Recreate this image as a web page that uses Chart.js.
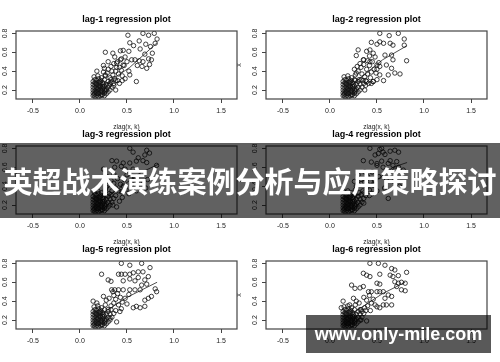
<!DOCTYPE html>
<html>
<head>
<meta charset="utf-8">
<script src="https://cdn.jsdelivr.net/npm/chart.js@4.4.0/dist/chart.umd.min.js"></script>
<style>
html, body { margin: 0; padding: 0; background: #fff; }
#wrap { position: relative; width: 500px; height: 362px; overflow: hidden; }
.panel { position: absolute; width: 265px; height: 132px; }
#banner { position: absolute; left: 0; top: 143px; width: 500px; height: 75px; background: rgba(0,0,0,0.62); }
#bannerText { position: absolute; left: 0; top: 143px; width: 500px; height: 75px; line-height: 75px; text-align: center;
  color: #fff; font-family: "Noto Sans CJK SC"; font-weight: bold; font-size: 29px; white-space: nowrap; }
#mark { position: absolute; left: 306px; top: 315px; width: 185px; height: 38px; background: rgba(0,0,0,0.65);
  color: #fff; font-family: "Liberation Sans", Arial, sans-serif; font-weight: bold; font-size: 18px; line-height: 38px; text-align: center; }
</style>
</head>
<body>
<div id="wrap">
  <div class="panel" style="left:-15px;top:0px"><canvas id="c0" width="265" height="132"></canvas></div>
  <div class="panel" style="left:235px;top:0px"><canvas id="c1" width="265" height="132"></canvas></div>
  <div class="panel" style="left:-15px;top:115px"><canvas id="c2" width="265" height="132"></canvas></div>
  <div class="panel" style="left:235px;top:115px"><canvas id="c3" width="265" height="132"></canvas></div>
  <div class="panel" style="left:-15px;top:230px"><canvas id="c4" width="265" height="132"></canvas></div>
  <div class="panel" style="left:235px;top:230px"><canvas id="c5" width="265" height="132"></canvas></div>
  <div id="banner"></div>
  <div id="bannerText">英超战术演练案例分析与应用策略探讨</div>
  <div id="mark">www.only-mile.com</div>
</div>
<script>
const panelTitles = ['lag-1 regression plot', 'lag-2 regression plot', 'lag-3 regression plot',
                     'lag-4 regression plot', 'lag-5 regression plot', 'lag-6 regression plot'];
const xTicks = [-0.5, 0, 0.5, 1, 1.5];
const xTickLabels = ['-0.5', '0.0', '0.5', '1.0', '1.5'];
const yTicks = [0.2, 0.3, 0.4, 0.5, 0.6, 0.7, 0.8];
const yTickLabels = ['0.2', '', '0.4', '', '0.6', '', '0.8'];

// dense low corner, present in every lag
const corePts = [[0.14,0.14],[0.14,0.17],[0.14,0.2],[0.14,0.23],[0.14,0.26],[0.14,0.29],[0.16,0.13],[0.16,0.16],
  [0.16,0.19],[0.16,0.22],[0.16,0.25],[0.16,0.28],[0.16,0.31],[0.18,0.14],[0.18,0.17],[0.18,0.2],[0.18,0.23],
  [0.18,0.26],[0.18,0.3],[0.2,0.13],[0.2,0.16],[0.2,0.19],[0.2,0.22],[0.2,0.25],[0.2,0.28],[0.2,0.32],[0.22,0.14],
  [0.22,0.17],[0.22,0.2],[0.22,0.23],[0.22,0.27],[0.22,0.3],[0.24,0.15],[0.24,0.18],[0.24,0.21],[0.24,0.24],
  [0.24,0.28],[0.26,0.14],[0.26,0.17],[0.26,0.2],[0.26,0.24],[0.26,0.31],[0.28,0.16],[0.28,0.21],[0.28,0.26],
  [0.3,0.18],[0.3,0.23],[0.3,0.29],[0.32,0.2],[0.32,0.26],[0.34,0.23],[0.36,0.27],[0.15,0.34],[0.19,0.35],
  [0.23,0.33],[0.27,0.36],[0.33,0.31],[0.38,0.3],[0.15,0.15],[0.17,0.18],[0.19,0.21],[0.21,0.24],[0.23,0.19],
  [0.25,0.22],[0.17,0.27],[0.21,0.29],[0.25,0.26],[0.19,0.16],[0.23,0.15],[0.27,0.19]];

const lag1Pts = [[0.51,0.78],[0.67,0.8],[0.73,0.78],[0.79,0.8],[0.82,0.74],[0.53,0.7],[0.57,0.67],[0.63,0.72],
  [0.7,0.685],[0.8,0.695],[0.43,0.615],[0.46,0.62],[0.27,0.6],[0.35,0.59],[0.52,0.61],[0.64,0.635],[0.75,0.66],
  [0.69,0.58],[0.77,0.59],[0.55,0.52],[0.585,0.52],[0.63,0.51],[0.67,0.5],[0.73,0.53],[0.76,0.52],[0.61,0.46],
  [0.66,0.45],[0.71,0.43],[0.74,0.47],[0.43,0.52],[0.39,0.485],[0.46,0.465],[0.25,0.46],[0.18,0.4],[0.52,0.4],
  [0.53,0.36],[0.6,0.29],[0.28,0.2],[0.38,0.2],[0.36,0.25],[0.3,0.42],[0.33,0.45],[0.36,0.48],[0.4,0.5],
  [0.42,0.44],[0.38,0.4],[0.35,0.36],[0.32,0.33],[0.29,0.38],[0.41,0.37],[0.44,0.41],[0.47,0.46],[0.45,0.35],
  [0.48,0.32],[0.4,0.3],[0.37,0.32],[0.33,0.28],[0.31,0.25],[0.27,0.35],[0.25,0.39],[0.42,0.27],[0.45,0.3],
  [0.5,0.5],[0.48,0.55],[0.44,0.53],[0.37,0.55],[0.3,0.5],[0.26,0.43],[0.34,0.4],[0.39,0.44]];

const lag2Pts = [[0.53,0.8],[0.63,0.776],[0.727,0.8],[0.44,0.705],[0.5,0.685],[0.53,0.71],[0.57,0.695],[0.64,0.695],
  [0.67,0.675],[0.79,0.74],[0.79,0.675],[0.3,0.625],[0.39,0.61],[0.425,0.625],[0.46,0.59],[0.585,0.57],[0.655,0.57],
  [0.67,0.52],[0.815,0.51],[0.6,0.465],[0.655,0.43],[0.69,0.38],[0.745,0.37],[0.62,0.36],[0.28,0.565],[0.355,0.52],
  [0.425,0.5],[0.5,0.465],[0.53,0.45],[0.53,0.36],[0.5,0.31],[0.46,0.29],[0.57,0.3],[0.41,0.27],[0.37,0.2],
  [0.3,0.4],[0.33,0.44],[0.36,0.47],[0.39,0.42],[0.42,0.46],[0.45,0.5],[0.4,0.37],[0.37,0.34],[0.34,0.37],
  [0.31,0.31],[0.28,0.38],[0.26,0.42],[0.44,0.39],[0.47,0.42],[0.49,0.38],[0.43,0.33],[0.46,0.29],[0.39,0.29],
  [0.35,0.3],[0.32,0.48],[0.29,0.45],[0.48,0.55],[0.42,0.56],[0.36,0.52],[0.4,0.51],[0.52,0.49],[0.5,0.42],
  [0.27,0.3],[0.44,0.27],[0.38,0.25]];

const lag3Pts = [[0.53,0.8],[0.565,0.76],[0.71,0.78],[0.69,0.73],[0.67,0.67],[0.71,0.65],[0.34,0.67],[0.39,0.665],
  [0.46,0.645],[0.53,0.645],[0.6,0.665],[0.37,0.6],[0.44,0.61],[0.25,0.58],[0.815,0.62],[0.565,0.58],[0.74,0.75],
  [0.62,0.7],[0.48,0.58],[0.5,0.52],[0.58,0.5],[0.66,0.53],[0.72,0.47],[0.63,0.44],[0.55,0.42],[0.7,0.38],
  [0.6,0.35],[0.52,0.32],[0.45,0.28],[0.35,0.2],[0.39,0.18],[0.42,0.24],[0.3,0.41],[0.33,0.46],[0.36,0.43],
  [0.4,0.48],[0.43,0.42],[0.38,0.38],[0.34,0.35],[0.31,0.32],[0.28,0.39],[0.41,0.35],[0.46,0.4],[0.47,0.47],
  [0.44,0.34],[0.49,0.36],[0.26,0.44],[0.29,0.5],[0.36,0.53]];

const lag4Pts = [[0.425,0.8],[0.53,0.79],[0.64,0.77],[0.73,0.76],[0.355,0.67],[0.44,0.655],[0.5,0.64],[0.55,0.665],
  [0.62,0.64],[0.67,0.62],[0.73,0.6],[0.78,0.57],[0.565,0.76],[0.48,0.73],[0.55,0.8],[0.69,0.78],[0.515,0.745],
  [0.585,0.735],[0.64,0.67],[0.71,0.66],[0.5,0.62],[0.565,0.6],[0.69,0.57],[0.62,0.27],[0.45,0.55],[0.52,0.5],
  [0.6,0.48],[0.68,0.45],[0.74,0.4],[0.58,0.38],[0.5,0.35],[0.42,0.3],[0.36,0.22],[0.3,0.42],[0.33,0.47],
  [0.37,0.44],[0.4,0.5],[0.43,0.45],[0.39,0.38],[0.35,0.35],[0.31,0.33],[0.28,0.4],[0.42,0.36],[0.46,0.41],
  [0.48,0.46],[0.45,0.32],[0.26,0.45],[0.3,0.52],[0.37,0.55]];

const lag5Pts = [[0.44,0.8],[0.53,0.78],[0.656,0.8],[0.745,0.755],[0.62,0.71],[0.67,0.71],[0.23,0.685],[0.41,0.685],
  [0.44,0.685],[0.48,0.685],[0.53,0.685],[0.567,0.7],[0.3,0.625],[0.33,0.61],[0.46,0.615],[0.53,0.635],[0.585,0.615],
  [0.62,0.65],[0.69,0.625],[0.727,0.66],[0.656,0.57],[0.71,0.58],[0.337,0.52],[0.37,0.52],[0.41,0.52],[0.46,0.52],
  [0.53,0.52],[0.585,0.52],[0.64,0.52],[0.8,0.53],[0.815,0.5],[0.76,0.45],[0.727,0.43],[0.69,0.41],[0.69,0.345],
  [0.64,0.33],[0.6,0.345],[0.567,0.33],[0.14,0.4],[0.18,0.38],[0.25,0.45],[0.28,0.41],[0.41,0.36],[0.425,0.29],
  [0.32,0.22],[0.39,0.18],[0.35,0.5],[0.36,0.46],[0.38,0.42],[0.4,0.48],[0.43,0.44],[0.36,0.38],[0.33,0.35],
  [0.3,0.31],[0.45,0.39],[0.48,0.43],[0.5,0.37],[0.52,0.47],[0.44,0.32],[0.31,0.43]];

const lag6Pts = [[0.425,0.8],[0.515,0.8],[0.585,0.78],[0.656,0.745],[0.69,0.73],[0.815,0.705],[0.355,0.695],
  [0.39,0.675],[0.425,0.66],[0.53,0.685],[0.64,0.675],[0.67,0.66],[0.727,0.67],[0.23,0.57],[0.266,0.535],[0.32,0.54],
  [0.355,0.555],[0.5,0.59],[0.53,0.58],[0.69,0.605],[0.727,0.59],[0.76,0.6],[0.8,0.59],[0.71,0.555],[0.76,0.52],
  [0.8,0.51],[0.41,0.5],[0.44,0.5],[0.5,0.5],[0.53,0.5],[0.567,0.5],[0.62,0.465],[0.656,0.45],[0.585,0.43],
  [0.656,0.36],[0.6,0.36],[0.567,0.36],[0.53,0.33],[0.5,0.34],[0.25,0.43],[0.28,0.4],[0.14,0.4],[0.21,0.36],
  [0.12,0.33],[0.32,0.31],[0.34,0.29],[0.39,0.19],[0.33,0.2],[0.36,0.44],[0.39,0.41],[0.42,0.46],[0.44,0.38],
  [0.4,0.35],[0.37,0.33],[0.46,0.42],[0.48,0.36],[0.31,0.38],[0.43,0.3]];

const lagPts = [lag1Pts, lag2Pts, lag3Pts, lag4Pts, lag5Pts, lag6Pts];

// smoother through each cloud
const fitX = [[0.13,0.53,0.82],[0.13,0.56,0.82],[0.13,0.64,0.83],[0.13,0.67,0.82],[0.13,0.5,0.82],[0.13,0.56,0.8]];
const fitY = [[0.17,0.44,0.7],[0.17,0.52,0.67],[0.17,0.54,0.63],[0.17,0.6,0.65],[0.2,0.44,0.6],[0.2,0.48,0.6]];

const fam = '"Liberation Sans", Arial, sans-serif';

// box round the plot and the title centred over the plot region, like R does
const boxPlugin = {
  id: 'box',
  afterDatasetsDraw(chart) {
    const a = chart.chartArea, c = chart.ctx;
    c.save();
    c.strokeStyle = '#444';
    c.lineWidth = 1.2;
    c.strokeRect(a.left, a.top, a.right - a.left, a.bottom - a.top);
    c.fillStyle = '#000';
    c.font = 'bold 9px ' + fam;
    c.textAlign = 'center';
    c.textBaseline = 'middle';
    c.fillText(chart.options.plugins.box.text, (a.left + a.right) / 2, 20);
    c.restore();
  }
};

for (let i = 0; i < 6; i++) {
  const row = Math.floor(i / 2);
  const pts = corePts.concat(lagPts[i]).map(p => ({x: p[0], y: p[1]}));
  const fit = fitX[i].map((v, k) => ({x: v, y: fitY[i][k]}));

  new Chart(document.getElementById('c' + i), {
    type: 'scatter',
    data: {
      datasets: [{
        data: pts,
        pointStyle: 'circle',
        pointRadius: 2.2,
        borderWidth: 0.8,
        borderColor: '#111',
        backgroundColor: 'rgba(0,0,0,0)'
      }, {
        type: 'line',
        data: fit,
        borderColor: '#222',
        borderWidth: 0.8,
        pointRadius: 0,
        tension: 0
      }]
    },
    options: {
      responsive: false,
      animation: false,
      layout: { padding: { left: 0, right: 13, top: 31, bottom: 0 } },
      plugins: {
        legend: { display: false },
        tooltip: { enabled: false },
        title: { display: false },
        box: { text: panelTitles[i] }
      },
      scales: {
        x: {
          type: 'linear',
          min: -0.68,
          max: 1.67,
          afterBuildTicks: s => { s.ticks = xTicks.map(v => ({value: v})); },
          afterFit: s => { s.height = 33; },
          ticks: {
            color: '#222',
            font: { family: fam, size: 7 },
            padding: 3.8,
            maxRotation: 0,
            callback: (v, k) => xTickLabels[k]
          },
          grid: { drawOnChartArea: false, drawTicks: true, tickLength: 4, color: '#444' },
          border: { display: false },
          title: {
            display: row < 2,
            text: 'zlag(x, k)',
            color: '#222',
            font: { family: fam, size: 6.5 },
            padding: { top: 0, bottom: 1.1 }
          }
        },
        y: {
          min: 0.105,
          max: 0.825,
          afterBuildTicks: s => { s.ticks = yTicks.map(v => ({value: v})); },
          afterFit: s => { s.width = 31; },
          ticks: {
            color: '#222',
            font: { family: fam, size: 7 },
            minRotation: 90,
            maxRotation: 90,
            crossAlign: 'center',
            padding: 2.1,
            callback: (v, k) => yTickLabels[k]
          },
          grid: { drawOnChartArea: false, drawTicks: true, tickLength: 4, color: '#444' },
          border: { display: false },
          title: {
            display: true,
            text: 'x',
            color: '#222',
            font: { family: fam, size: 7 },
            padding: 0
          }
        }
      }
    },
    plugins: [boxPlugin]
  });
}
</script>
</body>
</html>
